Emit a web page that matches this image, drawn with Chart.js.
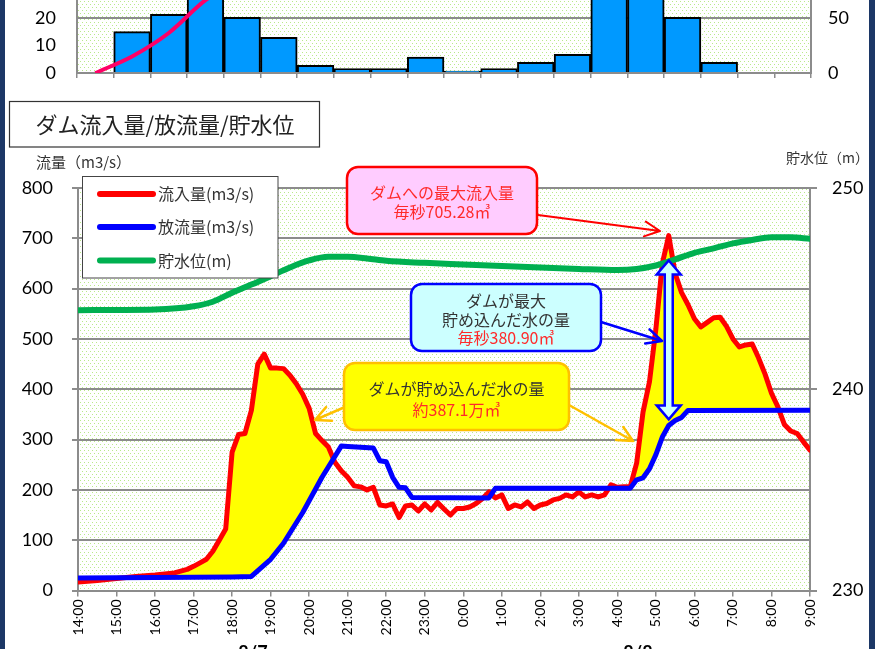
<!DOCTYPE html>
<html>
<head>
<meta charset="utf-8">
<style>
  html, body { margin: 0; padding: 0; background: #fff; }
  #wrap { position: relative; width: 875px; height: 649px; overflow: hidden; }
  canvas { position: absolute; left: 0; }
  #rain { top: -155px; }
  #main { top: 0; }
  .frame { position: absolute; top: 0; height: 649px; background: #1c3766; }
</style>
<script src="https://cdn.jsdelivr.net/npm/chart.js"></script>
</head>
<body>
<div id="wrap">
  <canvas id="rain" width="875" height="263"></canvas>
  <canvas id="main" width="875" height="649"></canvas>
  <div class="frame" style="left:0;width:5px"></div>
  <div class="frame" style="left:869px;width:6px"></div>
</div>
<script>
// ---- rain (top chart, mostly cut off) ----
const rainHours = ['14', '15', '16', '17', '18', '19', '20', '21', '22', '23',
                   '0', '1', '2', '3', '4', '5', '6', '7', '8', '9']
const rainHourly = [null, 15, 21.3, 30, 20.2, 12.9, 2.8, 1.6, 1.6, 5.8,
                    0.7, 1.6, 3.9, 6.8, 33, 30, 20.2, 3.9, null, null]
const rainTotal = [0, 15, 36.3, 66, 86, 99, 102, 104, 105, 111,
                   112, 113, 117, 124, 157, 187, 207, 211, null, null]

// ---- main chart ----
const hourLabels = ['14:00', '15:00', '16:00', '17:00', '18:00', '19:00', '20:00', '21:00', '22:00', '23:00',
                    '0:00', '1:00', '2:00', '3:00', '4:00', '5:00', '6:00', '7:00', '8:00', '9:00']

const inflowTimes = ['14:00', '14:30', '15:00', '15:30', '16:00', '16:30', '16:50', '17:00', '17:10', '17:20',
  '17:30', '17:40', '17:50', '18:00', '18:10', '18:20', '18:30', '18:40', '18:50', '19:00',
  '19:10', '19:20', '19:30', '19:40', '19:50', '20:00', '20:10', '20:20', '20:30', '20:40',
  '20:50', '21:00', '21:10', '21:20', '21:30', '21:40', '21:50', '22:00', '22:10', '22:20',
  '22:30', '22:40', '22:50', '23:00', '23:10', '23:20', '23:30', '23:40', '23:50', '0:00',
  '0:10', '0:20', '0:30', '0:40', '0:50', '1:00', '1:10', '1:20', '1:30', '1:40',
  '1:50', '2:00', '2:10', '2:20', '2:30', '2:40', '2:50', '3:00', '3:10', '3:20',
  '3:30', '3:40', '3:50', '4:00', '4:10', '4:20', '4:30', '4:40', '4:50', '5:00',
  '5:10', '5:20', '5:30', '5:40', '5:50', '6:00', '6:10', '6:20', '6:30', '6:40',
  '6:50', '7:00', '7:10', '7:20', '7:30', '7:40', '7:50', '8:00', '8:10', '8:20',
  '8:30', '8:40', '8:50', '9:00']
const inflowValues = [17, 20, 24, 28, 31, 35, 42, 48, 55, 62,
  78, 100, 122, 275, 310, 312, 358, 450, 470, 442,
  442, 441, 428, 411, 390, 362, 312, 298, 285, 255,
  238, 225, 208, 206, 200, 205, 170, 168, 172, 145,
  168, 170, 158, 172, 160, 175, 162, 150, 163, 163,
  166, 173, 183, 196, 184, 190, 163, 170, 166, 176,
  163, 170, 173, 180, 183, 190, 186, 196, 186, 190,
  186, 190, 210, 205, 206, 206, 253, 355, 415, 520,
  650, 705.28, 630, 592, 568, 540, 524, 533, 542, 543,
  525, 500, 484, 488, 490, 462, 430, 392, 365, 330,
  317, 312, 295, 279]

const outflowTimes = ['14:00', '15:00', '16:00', '17:00', '18:00', '18:30', '19:00', '19:20', '19:50', '20:20',
  '20:50', '21:00', '21:40', '21:50', '22:00', '22:10', '22:20', '22:30', '22:40', '0:40',
  '0:50', '4:20', '4:30', '4:40', '4:50', '5:00', '5:10', '5:20', '5:30', '5:40',
  '5:50', '9:00']
const outflowValues = [25, 25.5, 26, 26.5, 27, 28, 62, 94, 155, 225,
  287, 286, 283, 258, 256, 225, 205, 204, 185, 184,
  203, 203, 220, 224, 242, 270, 305, 328, 338, 344,
  358, 358.5]

const levelTimes = ['14:00', '15:00', '16:00', '17:00', '17:30', '18:00', '18:30', '19:00', '19:30', '20:00',
  '20:30', '21:00', '21:30', '22:00', '23:00', '0:00', '1:00', '2:00', '3:00', '4:00',
  '4:30', '5:00', '5:30', '6:00', '6:30', '7:00', '7:30', '8:00', '8:30', '9:00']
const levelValues = [243.93, 243.94, 243.96, 244.12, 244.35, 244.8, 245.2, 245.62, 246.05, 246.4,
  246.58, 246.58, 246.5, 246.38, 246.28, 246.2, 246.12, 246.05, 245.98, 245.93,
  245.98, 246.15, 246.45, 246.78, 247.0, 247.25, 247.42, 247.55, 247.55, 247.48]

// hours since 14:00
function toHours(t) {
  const [h, m] = t.split(':').map(Number)
  return (h - 14 + 24) % 24 + m / 60
}
function points(times, values) {
  return times.map((t, i) => ({ x: toHours(t), y: values[i] }))
}

const GRAY = '#8c8c8c'
const JP = "'Noto Sans CJK JP', sans-serif"
Chart.defaults.font.family = "Lato, sans-serif"
Chart.defaults.color = '#000'

function dotPattern(ctx) {
  const c = document.createElement('canvas')
  c.width = 4; c.height = 6
  const p = c.getContext('2d')
  p.fillStyle = '#fff'; p.fillRect(0, 0, 4, 6)
  p.fillStyle = '#b9e98a'
  p.fillRect(0, 0, 1, 1); p.fillRect(2, 3, 1, 1)
  return ctx.createPattern(c, 'repeat')
}
const plotBg = {
  id: 'plotBg',
  beforeDraw(chart) {
    const { ctx, chartArea: a } = chart
    ctx.save()
    ctx.fillStyle = dotPattern(ctx)
    ctx.fillRect(a.left, a.top, a.right - a.left, a.bottom - a.top)
    ctx.restore()
  }
}

// top chart (the tick label padding forces >= 32px of room above and below the plot)
new Chart(document.getElementById('rain'), {
  type: 'bar',
  data: {
    labels: rainHours,
    datasets: [
      { type: 'line', data: rainTotal, yAxisID: 'y2', borderColor: '#ff0066', borderWidth: 4,
        pointRadius: 0, tension: 0.3, order: 0 },
      { type: 'bar', data: rainHourly, yAxisID: 'y', backgroundColor: '#0099ff', borderColor: '#000',
        borderWidth: 2, barPercentage: 1, categoryPercentage: 1, order: 1 }
    ]
  },
  options: {
    responsive: false, animation: false,
    layout: { padding: { top: 35, left: 0, right: 0, bottom: 0 } },
    plugins: { legend: { display: false }, tooltip: { enabled: false } },
    scales: {
      x: {
        grid: { drawOnChartArea: false, tickLength: 5, color: GRAY, lineWidth: 1.5 },
        border: { color: GRAY, width: 2 },
        ticks: { display: false },
        afterFit: s => { s.height = 35 }
      },
      y: {
        min: 0, max: 70,
        ticks: { stepSize: 10, padding: 21, font: { size: 18 } },
        grid: { drawTicks: false, lineWidth: 2,
          color: c => (c.tick.value % 20 === 0 && c.tick.value > 0) ? GRAY : 'rgba(0,0,0,0)' },
        border: { color: GRAY, width: 2 },
        afterFit: s => { s.width = 77 }
      },
      y2: {
        position: 'right', min: 0, max: 175,
        ticks: { stepSize: 50, padding: 17, font: { size: 18 } },
        grid: { drawOnChartArea: false, drawTicks: false },
        border: { color: GRAY, width: 2 },
        afterFit: s => { s.width = 64 }
      }
    }
  },
  plugins: [plotBg]
})

function arrow(ctx, x1, y1, x2, y2, color, w) {
  const a = Math.atan2(y2 - y1, x2 - x1), L = 17, s = 0.45
  ctx.save()
  ctx.strokeStyle = color; ctx.lineWidth = w; ctx.lineCap = 'round'; ctx.lineJoin = 'round'
  ctx.beginPath()
  ctx.moveTo(x1, y1); ctx.lineTo(x2, y2)
  ctx.moveTo(x2 - L * Math.cos(a - s), y2 - L * Math.sin(a - s))
  ctx.lineTo(x2, y2)
  ctx.lineTo(x2 - L * Math.cos(a + s), y2 - L * Math.sin(a + s))
  ctx.stroke()
  ctx.restore()
}

function callout(ctx, x, y, w, h, fill, stroke, lines) {
  ctx.save()
  ctx.beginPath()
  ctx.roundRect(x, y, w, h, 11)
  ctx.fillStyle = fill; ctx.fill()
  ctx.lineWidth = 2.5; ctx.strokeStyle = stroke; ctx.stroke()
  ctx.textAlign = 'center'; ctx.textBaseline = 'middle'
  ctx.font = '16px ' + JP
  lines.forEach(l => { ctx.fillStyle = l[2]; ctx.fillText(l[0], x + w / 2, l[1]) })
  ctx.restore()
}

const decorations = {
  id: 'decorations',
  afterDatasetsDraw(chart) {
    // double arrow at the peak: max stored inflow
    const { ctx, scales } = chart
    const x = scales.x.getPixelForValue(toHours('5:20'))
    const yt = scales.y.getPixelForValue(656), yb = scales.y.getPixelForValue(340)
    const hw = 12, hh = 14, sw = 4
    ctx.save()
    ctx.beginPath()
    ctx.moveTo(x, yt); ctx.lineTo(x + hw, yt + hh); ctx.lineTo(x + sw, yt + hh)
    ctx.lineTo(x + sw, yb - hh); ctx.lineTo(x + hw, yb - hh); ctx.lineTo(x, yb)
    ctx.lineTo(x - hw, yb - hh); ctx.lineTo(x - sw, yb - hh); ctx.lineTo(x - sw, yt + hh)
    ctx.lineTo(x - hw, yt + hh); ctx.closePath()
    ctx.fillStyle = '#ccffff'; ctx.fill()
    ctx.lineWidth = 2.5; ctx.strokeStyle = '#0000ff'; ctx.lineJoin = 'miter'; ctx.stroke()
    ctx.restore()
  },
  afterDraw(chart) {
    const { ctx } = chart
    ctx.save()
    // title box
    ctx.fillStyle = '#fff'
    ctx.fillRect(9.5, 101.5, 310, 45.5)
    ctx.strokeStyle = '#333'; ctx.lineWidth = 1.2
    ctx.strokeRect(9.5, 101.5, 310, 45.5)
    ctx.fillStyle = '#222'; ctx.font = '22px ' + JP
    ctx.textAlign = 'center'; ctx.textBaseline = 'middle'
    ctx.fillText('ダム流入量/放流量/貯水位', 165, 125)

    // axis titles
    ctx.fillStyle = '#333'; ctx.font = '15px ' + JP; ctx.textAlign = 'left'
    ctx.fillText('流量（m3/s）', 36, 162)
    ctx.font = '14px ' + JP
    ctx.fillText('貯水位（m）', 786, 158)

    // date labels below the time axis
    ctx.fillStyle = '#000'; ctx.font = 'bold 18px Lato'; ctx.textAlign = 'center'; ctx.textBaseline = 'top'
    ctx.fillText('8/7', 253, 644)
    ctx.fillText('8/8', 638, 644)

    // legend
    ctx.fillStyle = '#fff'; ctx.fillRect(82.5, 176.5, 195.5, 101.5)
    ctx.strokeStyle = '#444'; ctx.lineWidth = 1; ctx.strokeRect(82.5, 176.5, 195.5, 101.5)
    const items = chart.data.datasets
    const ly = [194, 227, 260.5]
    ctx.textAlign = 'left'; ctx.textBaseline = 'middle'; ctx.font = '16px ' + JP
    items.forEach((d, i) => {
      ctx.beginPath(); ctx.moveTo(100, ly[i]); ctx.lineTo(153, ly[i])
      ctx.strokeStyle = d.borderColor; ctx.lineWidth = 6; ctx.lineCap = 'round'; ctx.stroke()
      ctx.fillStyle = '#333'; ctx.fillText(d.label, 158, ly[i])
    })
    ctx.restore()

    // callouts
    arrow(ctx, 538, 215, 660, 231, '#ff0000', 2)
    callout(ctx, 347, 167, 190, 67, '#ffccff', '#ff0000', [
      ['ダムへの最大流入量', 193, '#ff2a2a'], ['毎秒705.28㎥', 212, '#ff2a2a']])
    arrow(ctx, 601, 322, 662, 341, '#0000ff', 2.5)
    callout(ctx, 411, 284, 190, 67, '#ccffff', '#0000ff', [
      ['ダムが最大', 301, '#333'], ['貯め込んだ水の量', 320, '#333'], ['毎秒380.90㎥', 338, '#ff2a2a']])
    arrow(ctx, 345, 407, 315, 420, '#ffc000', 2.5)
    arrow(ctx, 569, 405, 633, 441, '#ffc000', 2.5)
    callout(ctx, 344, 363, 225, 67, '#ffff00', '#ffc000', [
      ['ダムが貯め込んだ水の量', 389, '#333'], ['約387.1万㎥', 410, '#ff2a2a']])
  }
}

new Chart(document.getElementById('main'), {
  type: 'line',
  data: {
    datasets: [
      { label: '流入量(m3/s)', data: points(inflowTimes, inflowValues), yAxisID: 'y',
        borderColor: '#ff0000', borderWidth: 5, pointRadius: 0, tension: 0,
        borderJoinStyle: 'round', borderCapStyle: 'round', order: 2,
        fill: { target: 1, above: '#ffff00', below: 'rgba(0,0,0,0)' } },
      { label: '放流量(m3/s)', data: points(outflowTimes, outflowValues), yAxisID: 'y',
        borderColor: '#0000ff', borderWidth: 5, pointRadius: 0, tension: 0,
        borderJoinStyle: 'round', borderCapStyle: 'round', order: 1, fill: false },
      { label: '貯水位(m)', data: points(levelTimes, levelValues), yAxisID: 'y2',
        borderColor: '#00b050', borderWidth: 6, pointRadius: 0, tension: 0.4,
        cubicInterpolationMode: 'monotone', borderCapStyle: 'round', order: 0, fill: false }
    ]
  },
  options: {
    responsive: false, animation: false,
    layout: { padding: { top: 188, left: 0, right: 0, bottom: 0 } },
    plugins: { legend: { display: false }, tooltip: { enabled: false } },
    scales: {
      x: {
        type: 'linear', min: 0, max: 19,
        ticks: { stepSize: 1, autoSkip: false, minRotation: 90, maxRotation: 90, padding: 3,
          font: { size: 14 }, callback: v => hourLabels[Math.round(v)] },
        grid: { drawOnChartArea: false, tickLength: 6, color: GRAY, lineWidth: 1.5 },
        border: { color: GRAY, width: 2 },
        afterFit: s => { s.height = 58.5 }
      },
      y: {
        min: 0, max: 800,
        ticks: { stepSize: 100, padding: 19, font: { size: 18 } },
        grid: { color: GRAY, lineWidth: 2, tickLength: 6 },
        border: { color: GRAY, width: 2 },
        afterFit: s => { s.width = 78 }
      },
      y2: {
        position: 'right', min: 230, max: 250,
        ticks: { stepSize: 10, padding: 15, font: { size: 18 } },
        grid: { drawOnChartArea: false, tickLength: 7, color: GRAY, lineWidth: 2 },
        border: { color: GRAY, width: 2 },
        afterFit: s => { s.width = 65 }
      }
    }
  },
  plugins: [plotBg, decorations]
})
</script>
</body>
</html>
